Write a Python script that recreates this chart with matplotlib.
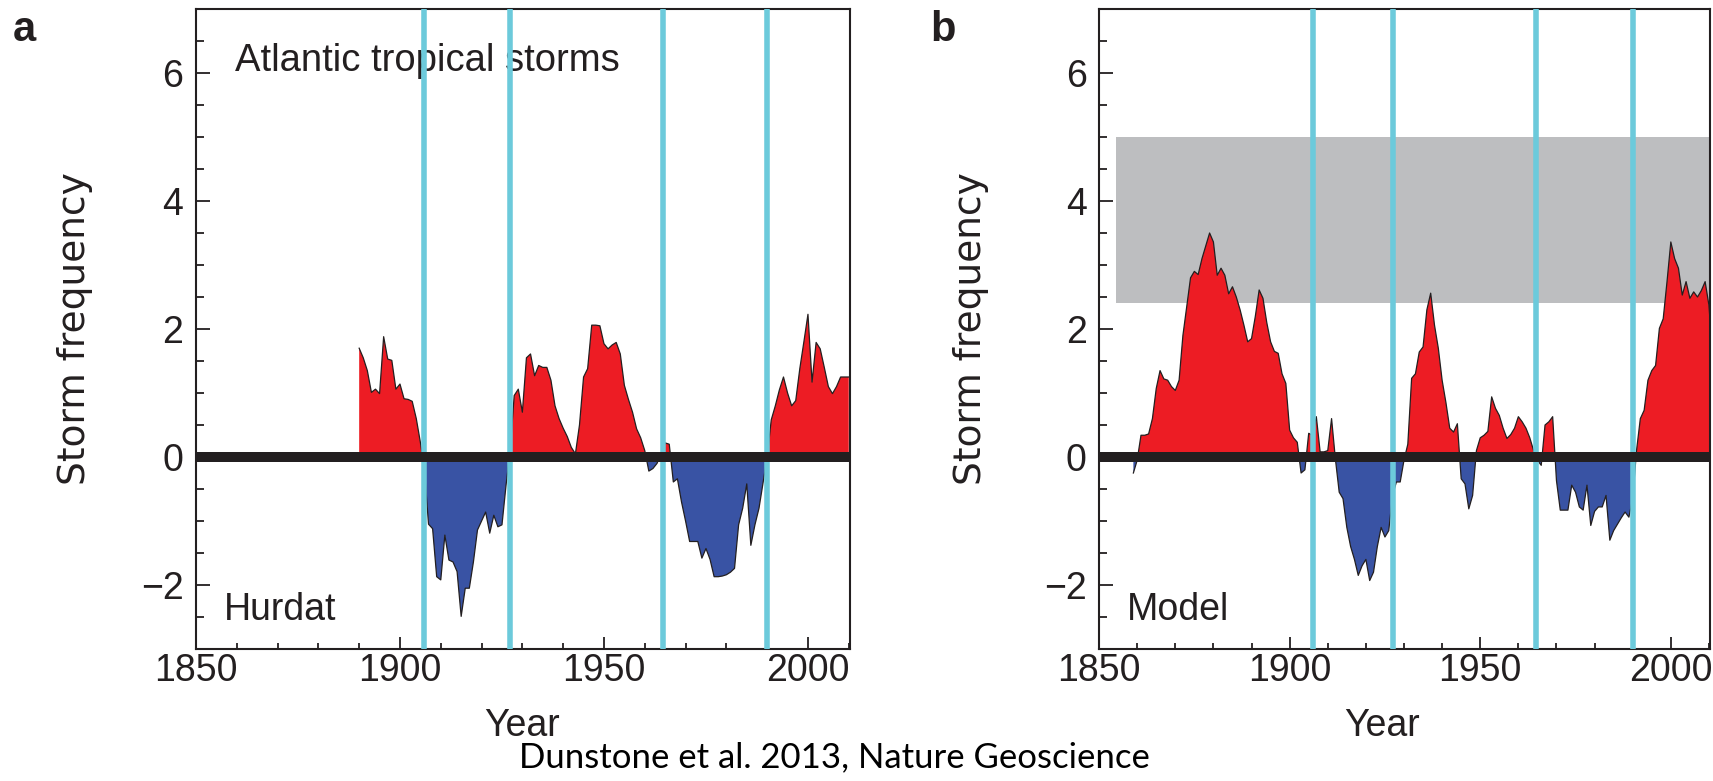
import numpy as np
import matplotlib
matplotlib.use("Agg")
import matplotlib.pyplot as plt
from matplotlib import font_manager
from matplotlib.ticker import MultipleLocator

# ---- data (storm frequency anomaly, annual) ----
hurdat_start = 1890
hurdat_values = [
    1.70, 1.55, 1.35, 1.01, 1.06, 0.99, 1.88, 1.53, 1.51, 1.06,        # 1890s
    1.14, 0.91, 0.90, 0.87, 0.60, 0.23, -0.20, -1.05, -1.12, -1.87,    # 1900s
    -1.92, -1.22, -1.61, -1.64, -1.79, -2.49, -2.05, -2.05, -1.64, -1.14,  # 1910s
    -1.00, -0.86, -1.19, -0.91, -1.09, -1.06, -0.44, 0.10, 0.96, 1.06,  # 1920s
    0.70, 1.55, 1.61, 1.27, 1.43, 1.40, 1.40, 1.20, 0.80, 0.60,        # 1930s
    0.45, 0.32, 0.15, 0.05, 0.50, 1.25, 1.38, 2.06, 2.06, 2.05,        # 1940s
    1.77, 1.69, 1.75, 1.79, 1.61, 1.12, 0.90, 0.70, 0.44, 0.30,        # 1950s
    0.10, -0.22, -0.18, -0.10, 0.05, 0.22, 0.20, -0.39, -0.34, -0.70,  # 1960s
    -1.00, -1.32, -1.32, -1.32, -1.58, -1.43, -1.60, -1.87, -1.87, -1.86,  # 1970s
    -1.84, -1.80, -1.74, -1.06, -0.80, -0.42, -1.38, -1.06, -0.80, -0.40,  # 1980s
    0.00, 0.58, 0.80, 1.05, 1.25, 1.00, 0.80, 0.88, 1.38, 1.80,        # 1990s
    2.23, 1.17, 1.79, 1.69, 1.40, 1.10, 0.99, 1.10, 1.25, 1.25,        # 2000s
    1.25,
]

model_start = 1859
model_values = [
    -0.25,                                                             # 1859
    -0.05, 0.34, 0.34, 0.36, 0.60, 1.07, 1.35, 1.22, 1.20, 1.10,       # 1860s
    1.04, 1.20, 1.90, 2.35, 2.80, 2.90, 2.85, 3.10, 3.30, 3.50,        # 1870s
    3.36, 2.84, 2.95, 2.84, 2.55, 2.66, 2.50, 2.30, 2.06, 1.80,        # 1880s
    1.85, 2.20, 2.61, 2.48, 2.10, 1.80, 1.65, 1.62, 1.30, 1.15,        # 1890s
    0.42, 0.30, 0.23, -0.25, -0.20, 0.37, 0.34, 0.63, 0.08, 0.08,      # 1900s
    0.10, 0.60, -0.03, -0.55, -0.65, -1.10, -1.40, -1.60, -1.85, -1.70,  # 1910s
    -1.60, -1.93, -1.80, -1.40, -1.10, -1.25, -1.15, -0.60, -0.39, -0.39,  # 1920s
    -0.05, 0.20, 1.23, 1.30, 1.64, 1.72, 2.30, 2.56, 2.06, 1.70,       # 1930s
    1.20, 0.85, 0.45, 0.39, 0.52, -0.34, -0.42, -0.81, -0.60, 0.10,    # 1940s
    0.30, 0.34, 0.40, 0.94, 0.76, 0.65, 0.45, 0.29, 0.35, 0.45,        # 1950s
    0.63, 0.55, 0.45, 0.30, 0.10, -0.05, -0.13, 0.50, 0.55, 0.63,      # 1960s
    -0.37, -0.83, -0.83, -0.83, -0.44, -0.55, -0.78, -0.83, -0.44, -1.07,  # 1970s
    -0.85, -0.78, -0.78, -0.60, -1.30, -1.15, -1.05, -0.95, -0.86, -0.94,  # 1980s
    -0.65, 0.10, 0.60, 0.73, 1.20, 1.35, 1.43, 2.01, 2.16, 2.74,       # 1990s
    3.36, 3.10, 2.95, 2.53, 2.74, 2.48, 2.58, 2.50, 2.60, 2.74,        # 2000s
    2.37, 1.54,                                                        # 2010-2011
]

event_years = [1906, 1927, 1964.5, 1990]
model_range_years = [1854.5, 2012]
model_range_values = [2.4, 5.0]

RED = "#ed1c24"
BLUE = "#3953a4"
CYAN = "#6ccadb"
GREY = "#bdbec0"
INK = "#231f20"

names = {f.name for f in font_manager.fontManager.ttflist}
NARROW = "Liberation Sans Narrow" if "Liberation Sans Narrow" in names else "Liberation Sans"
plt.rcParams["font.family"] = [NARROW, "DejaVu Sans"]
plt.rcParams["axes.unicode_minus"] = True


def draw_panel(ax, start, values):
    values = np.asarray(values, dtype=float)
    years = start + np.arange(len(values))
    ax.fill_between(years, values, 0, where=values >= 0, interpolate=True,
                    color=RED, lw=0, zorder=2)
    ax.fill_between(years, values, 0, where=values <= 0, interpolate=True,
                    color=BLUE, lw=0, zorder=2)
    ax.plot(years, values, color=INK, lw=0.9, zorder=3)
    for yr in event_years:
        ax.axvline(yr, color=CYAN, lw=4, zorder=4)
    ax.axhline(0, color=INK, lw=7.2, zorder=5)

    ax.set_xlim(1850, 2010.3)
    ax.set_ylim(-3, 7)
    ax.xaxis.set_major_locator(MultipleLocator(50))
    ax.xaxis.set_minor_locator(MultipleLocator(10))
    ax.yaxis.set_major_locator(MultipleLocator(2))
    ax.yaxis.set_minor_locator(MultipleLocator(0.5))
    ax.tick_params(axis="both", which="both", direction="in", color=INK,
                   labelcolor=INK, labelsize=27, width=1.3)
    ax.tick_params(axis="y", which="major", length=10, pad=9)
    ax.tick_params(axis="y", which="minor", length=6)
    ax.tick_params(axis="x", which="major", length=8.5, pad=3)
    ax.tick_params(axis="x", which="minor", length=4.5)
    for sp in ax.spines.values():
        sp.set_linewidth(1.5)
        sp.set_color(INK)


fig = plt.figure(figsize=(17.13, 7.81), dpi=100)
ax_a = fig.add_axes([0.1144, 0.169, 0.3818, 0.8195])
ax_b = fig.add_axes([0.6416, 0.169, 0.3567, 0.8195])

draw_panel(ax_a, hurdat_start, hurdat_values)
ax_a.text(1859.5, 6.03, "Atlantic tropical storms", fontsize=27.5, color=INK, va="baseline")
ax_a.text(1856.8, -2.55, "Hurdat", fontsize=27, color=INK, va="baseline")

ax_b.fill_between(model_range_years, model_range_values[0], model_range_values[1],
                  color=GREY, lw=0, zorder=1)
draw_panel(ax_b, model_start, model_values)
ax_b.text(1857.4, -2.55, "Model", fontsize=27, color=INK, va="baseline")

# axis titles and panel letters
for x in (0.0438, 0.5668):
    fig.text(x, 0.579, "Storm frequency", rotation=90, fontsize=27, color=INK,
             ha="center", va="center", family="DejaVu Sans")
for x in (0.3047, 0.8068):
    fig.text(x, 0.070, "Year", fontsize=27, color=INK, ha="center", va="center")
fig.text(0.0076, 0.987, "a", fontsize=30, fontweight="bold", color=INK,
         ha="left", va="top", family="Liberation Sans")
fig.text(0.543, 0.987, "b", fontsize=30, fontweight="bold", color=INK,
         ha="left", va="top", family="Liberation Sans")

fig.text(0.4869, 0.030, "Dunstone et al. 2013, Nature Geoscience", fontsize=25,
         color="black", ha="center", va="center", family="Lato")

fig.savefig("out.png", dpi=100)
